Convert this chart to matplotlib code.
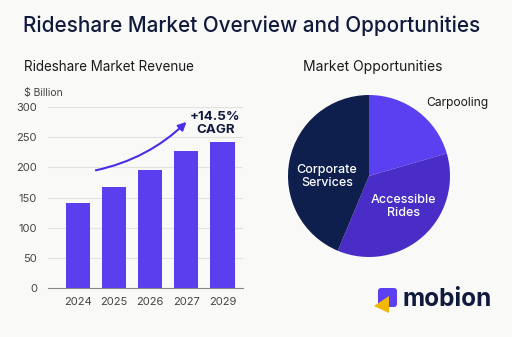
import numpy as np
import matplotlib.pyplot as plt
from matplotlib.patches import FancyBboxPatch, Polygon

# ── Data ──────────────────────────────────────────────────────────────────────
YEARS    = ["2024", "2025", "2026", "2027", "2029"]
REVENUE  = [141, 167, 195, 227, 242]          # $ billion
CAGR_TXT = "+14.5%\nCAGR"

SEGMENTS = ["Carpooling", "Accessible\nRides", "Corporate\nServices"]
SHARES   = [20.5, 35.8, 43.7]

# ── Style ─────────────────────────────────────────────────────────────────────
BG      = "#f9f9f8"
C_BAR   = "#5b3fee"
C_CARP  = "#5a40f0"
C_ACC   = "#4a2cc6"
C_CORP  = "#0e1f4d"
NAVY    = "#101a3c"
TXT     = "#1a1a1a"
TICK    = "#444444"
GRID    = "#e2e2e2"

plt.rcParams["font.family"] = ["Inter", "DejaVu Sans"]

W, H = 512, 337
fig = plt.figure(figsize=(W / 100, H / 100), dpi=100)
fig.patch.set_facecolor(BG)


def fx(px):  return px / W
def fy(py):  return 1 - py / H


fig.text(fx(23), fy(26), "Rideshare Market Overview and Opportunities",
         fontsize=14.9, fontweight="medium", color=NAVY, va="center", ha="left")

# ── Revenue bars ──────────────────────────────────────────────────────────────
ax = fig.add_axes([fx(48), fy(288.3), fx(243) - fx(48), fy(106.7) - fy(288.3)])
ax.set_facecolor(BG)
x = np.arange(len(YEARS))
ax.bar(x, REVENUE, width=0.67, color=C_BAR, zorder=3)
ax.set_xlim(-0.83, 4.57)
ax.set_ylim(0, 300)
ax.set_yticks(range(0, 301, 50))
ax.set_xticks(x, YEARS)
ax.grid(axis="y", color=GRID, linewidth=0.8, zorder=0)
ax.tick_params(length=0, labelsize=8, colors=TICK, pad=8)
ax.tick_params(axis="x", pad=6)
for s in ["top", "right", "left"]:
    ax.spines[s].set_visible(False)
ax.spines["bottom"].set_color("#888888")
ax.spines["bottom"].set_linewidth(0.8)

fig.text(fx(24), fy(67), "Rideshare Market Revenue", fontsize=9.7,
         color=TXT, va="center", ha="left")
fig.text(fx(24), fy(93), "$ Billion", fontsize=7.5, color=TICK,
         va="center", ha="left")

ax.annotate("", xy=(3.06, 278), xytext=(0.42, 194),
            arrowprops=dict(arrowstyle="-|>", color="#4a2de8", lw=1.5,
                            mutation_scale=12,
                            connectionstyle="arc3,rad=0.15"),
            zorder=5)
ax.text(3.8, 272, CAGR_TXT, ha="center", va="center", fontsize=9.6,
        fontweight="bold", color=NAVY, linespacing=1.05, zorder=5)

# ── Opportunities pie ─────────────────────────────────────────────────────────
cx, cy, r = 369, 176, 81
ax2 = fig.add_axes([fx(cx - r), fy(cy + r), 2 * r / W, 2 * r / H])
ax2.set_facecolor("none")
ax2.pie(SHARES, colors=[C_CARP, C_ACC, C_CORP], startangle=90,
        counterclock=False, radius=1.0,
        wedgeprops=dict(linewidth=0))
ax2.set_xlim(-1, 1)
ax2.set_ylim(-1, 1)
ax2.axis("off")

ax2.text(1.09, 0.90, SEGMENTS[0], fontsize=8.7, color=TXT,
         ha="center", va="center")
ax2.text(0.43, -0.38, SEGMENTS[1], fontsize=9, fontweight="medium",
         color="white", ha="center", va="center", linespacing=1.15)
ax2.text(-0.52, -0.01, SEGMENTS[2], fontsize=9, fontweight="medium",
         color="white", ha="center", va="center", linespacing=1.15)

fig.text(fx(373), fy(67), "Market Opportunities", fontsize=10,
         color=TXT, va="center", ha="center")

# ── Logo ──────────────────────────────────────────────────────────────────────
lax = fig.add_axes([0, 0, 1, 1], facecolor="none")
lax.set_xlim(0, W)
lax.set_ylim(H, 0)
lax.axis("off")
lax.add_patch(FancyBboxPatch((378, 288), 19, 19,
                             boxstyle="round,pad=0,rounding_size=3",
                             facecolor="#5a40f0", edgecolor="none"))
lax.add_patch(Polygon([(389, 296), (389, 313), (374, 306)], closed=True,
                      facecolor="#f2b705", edgecolor="none"))
fig.text(fx(403), fy(299), "mobion", fontsize=17.5, fontweight="bold",
         color=NAVY, va="center", ha="left")

fig.savefig("out.png", dpi=100, facecolor=fig.get_facecolor())
